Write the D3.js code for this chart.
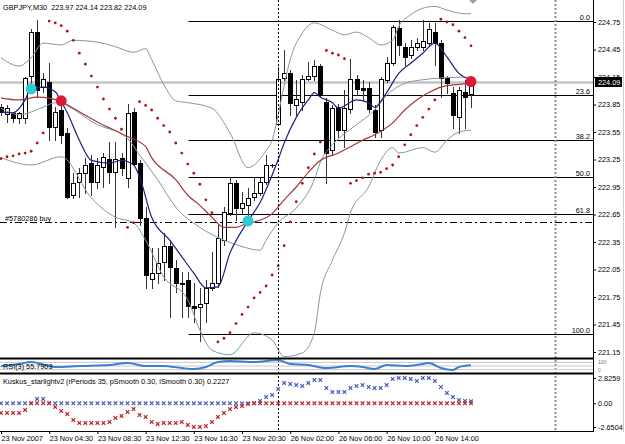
<!DOCTYPE html>
<html>
<head>
<meta charset="utf-8">
<script src="https://cdn.jsdelivr.net/npm/d3@7"></script>
<style>
    body { margin: 0; background: #fff; }
    svg { display: block; font-family: "Liberation Sans", Arial, sans-serif; }
</style>
</head>
<body>
<div id="chart"></div>
<script>
// GBPJPY M30 bars, index 0 = 23 Nov 00:30
var opens = [223.82,223.75,223.76,223.70,223.70,224.16,224.64,224.04,224.10,223.60, 223.79,223.54,222.86,223.00,223.10,223.21,223.00,223.17,223.26,223.11, 223.27,223.05,223.77,223.21,222.61,221.95,222.01,222.13,222.31,222.07, 221.90,221.94,221.65,221.64,221.68,221.85,221.90,222.37,222.67,222.99, 222.72,222.75,222.84,222.88,223.00,223.19,223.64,224.14,224.19,223.84, 223.88,224.13,224.16,224.27,223.88,223.35,223.82,223.57,223.80,224.13, 224.03,224.03,223.79,223.57,224.12,224.30,224.68,224.48,224.39,224.48, 224.48,224.52,224.64,224.52,224.14,223.98,223.71,223.99,223.97];
var highs = [223.86,223.84,223.77,223.77,224.15,224.67,224.77,224.19,224.30,223.82, 223.90,223.59,223.10,223.16,223.27,223.30,223.27,223.32,223.44,223.44, 223.32,223.86,223.81,223.24,222.73,222.28,222.28,222.45,222.37,222.15, 222.02,222.02,221.90,221.85,221.94,222.24,222.54,222.73,223.06,223.03, 222.90,222.94,223.05,223.05,223.30,223.20,224.26,224.44,224.23,224.12, 224.17,224.31,224.34,224.29,223.92,223.84,223.86,224.01,224.35,224.17, 224.12,224.09,223.84,224.15,224.37,224.72,224.77,224.52,224.55,224.58, 224.77,224.74,224.74,224.55,224.16,224.04,224.04,224.12,224.14];
var lows = [223.74,223.66,223.66,223.65,223.65,224.04,223.93,223.99,223.46,223.46, 223.43,222.83,222.83,222.84,222.88,222.86,222.94,222.95,222.99,222.51, 223.08,222.95,223.18,222.54,221.85,221.85,221.90,221.94,221.53,221.80, 221.53,221.53,221.48,221.27,221.48,221.83,221.86,222.32,222.64,222.59, 222.67,222.61,222.81,222.86,222.98,223.17,223.64,224.12,223.74,223.74, 223.79,224.12,224.12,223.93,222.99,223.30,223.50,223.39,223.76,223.95, 223.90,223.77,223.50,223.50,224.10,224.28,224.39,224.28,224.36,224.44, 224.44,224.50,224.28,223.93,223.98,223.59,223.54,223.59,223.82];
var closes = [223.77,223.81,223.70,223.76,224.14,224.64,224.01,224.13,223.60,223.77, 223.52,222.84,222.99,223.10,223.19,223.00,223.19,223.28,223.11,223.26, 223.16,223.76,223.20,222.61,221.99,222.01,222.12,222.31,222.08,221.90, 221.89,221.65,221.63,221.67,221.85,221.90,222.39,222.68,222.99,222.72, 222.78,222.83,222.88,223.00,223.19,223.19,224.13,224.19,223.87,223.91, 224.13,224.16,224.27,223.95,223.32,223.81,223.57,223.81,224.13,224.02, 224.01,223.80,223.55,224.13,224.30,224.70,224.50,224.37,224.48,224.52, 224.54,224.67,224.52,224.14,224.08,223.74,224.01,223.93,224.09];

var sar = [223.26,223.28,223.29,223.31,223.32,223.34,223.43,223.54,224.76,224.74, 224.71,224.65,224.55,224.41,224.29,224.16,224.04,223.91,223.80,223.70, 223.58,222.51,222.56,223.88,223.84,223.79,223.70,223.62,223.55,223.43, 223.32,223.20,223.10,222.98,222.81,222.67,221.26,221.30,221.36,221.46, 221.56,221.64,221.74,221.80,221.87,221.99,222.09,222.31,222.57,222.79, 222.99,223.16,223.31,223.44,224.44,224.41,224.39,224.35,222.99,223.02, 223.05,223.09,223.10,223.11,223.15,223.19,223.28,223.41,223.52,223.62, 223.71,223.80,223.90,224.78,224.75,224.72,224.65,224.58,224.49];

// [bar, price]
var bbUpper = [[0,224.36],[3,224.27],[5,224.36],[7,224.52],[10,224.50],[12,224.55],[16,224.53],[19,224.48],[22,224.42],[24,224.46],[25,224.34],[27,224.07],[29,223.89],[31,223.87],[35,223.81],[38,223.54],[41,223.16],[42,223.19],[44,223.35],[45,223.46],[46,223.74],[47,224.06],[48,224.34],[50,224.63],[52,224.74],[55,224.66],[57,224.61],[59,224.64],[61,224.58],[63,224.50],[65,224.55],[66,224.70],[68,224.83],[70,224.90],[72,224.92],[74,224.88],[77,224.84],[78,224.84]];
var bbMiddle = [[0,223.81],[3,223.74],[7,223.82],[9,223.87],[16,223.63],[21,223.48],[23,223.30],[26,223.03],[29,222.73],[33,222.51],[37,222.37],[40,222.30],[43,222.26],[44,222.37],[46,222.56],[49,222.72],[52,223.03],[53,223.22],[55,223.41],[57,223.53],[59,223.63],[62,223.79],[64,223.95],[67,224.08],[70,224.12],[73,224.14],[78,224.15]];
var bbLower = [[0,223.27],[5,223.19],[10,223.28],[15,222.83],[19,222.62],[22,222.56],[24,222.37],[27,221.97],[31,221.72],[33,221.39],[35,221.17],[38,221.12],[42,221.36],[45,221.28],[47,221.10],[50,221.14],[52,221.36],[53,221.79],[55,222.15],[57,222.45],[58,222.67],[61,222.95],[63,223.24],[65,223.38],[66,223.32],[70,223.38],[72,223.33],[74,223.46],[76,223.55],[78,223.57]];
var maFast = [[0,223.77],[2,223.76],[4,223.90],[5,224.03],[7,224.04],[9,223.99],[10,223.88],[11,223.76],[13,223.46],[15,223.24],[18,223.21],[20,223.24],[22,223.19],[23,223.06],[25,222.62],[28,222.37],[30,222.19],[32,222.01],[34,221.85],[36,221.86],[38,222.23],[41,222.58],[43,222.78],[45,223.08],[46,223.25],[47,223.43],[49,223.71],[51,223.90],[52,223.98],[53,223.93],[55,223.87],[56,223.81],[59,223.90],[61,223.87],[62,223.82],[64,223.98],[66,224.19],[68,224.30],[70,224.41],[72,224.52],[74,224.37],[76,224.19],[78,224.12]];
var maSlow = [[0,223.92],[3,223.90],[6,223.93],[8,223.92],[10,223.88],[13,223.77],[16,223.66],[21,223.50],[24,223.39],[25,223.27],[29,223.03],[31,222.86],[33,222.75],[35,222.62],[37,222.51],[39,222.51],[41,222.56],[42,222.57],[45,222.66],[47,222.81],[49,222.95],[51,223.11],[53,223.24],[56,223.32],[58,223.39],[60,223.46],[62,223.52],[65,223.65],[67,223.79],[69,223.90],[71,223.98],[73,224.04],[76,224.07],[78,224.08]];

var crossUp = [[5,224.02],[41,222.58]];
var crossDown = [[10,223.89],[78,224.10]];

var rsiValues = [[0,50],[3,67],[5,83],[9,42],[13,50],[18,58],[21,75],[24,50],[27,50],[30,33],[32,25],[34,42],[36,83],[38,92],[42,83],[46,99],[48,67],[51,58],[54,33],[58,50],[60,42],[62,25],[64,58],[67,50],[70,67],[71,75],[73,33],[75,17],[76,42],[78,55.79]];

var kuskus = [-1.08,-1.08,-1.08,-1.08,-0.75,0.02,0.48,0.48,0.02,-0.41, -0.86,-1.20,-1.87,-2.20,-2.20,-2.20,-2.20,-2.20,-2.09,-1.64, -1.42,-0.97,-0.64,-1.31,-1.53,-2.09,-2.31,-2.20,-2.20,-2.20, -2.09,-2.42,-2.65,-2.65,-2.54,-2.09,-1.53,-1.08,-0.64,-0.41, -0.30,-0.08,0.02,0.26,0.70,0.93,1.60,2.27,2.16,2.04, 1.93,2.27,2.60,2.60,1.71,1.26,1.26,1.26,1.71,1.93, 2.04,1.82,1.71,1.71,2.04,2.72,2.83,2.83,2.72,2.49, 2.83,2.83,2.49,1.82,1.15,0.70,0.37,0.26,0.2227];

var priceTicks = [224.75, 224.45, 224.15, 223.85, 223.55, 223.25, 222.95, 222.65, 222.35, 222.05, 221.75, 221.45, 221.15];
var kuskusTicks = [2.8259, 0, -2.6504];
var timeLabels = ["23 Nov 2007", "23 Nov 04:30", "23 Nov 08:30", "23 Nov 12:30", "23 Nov 16:30", "23 Nov 20:30", "26 Nov 02:00", "26 Nov 06:00", "26 Nov 10:00", "26 Nov 14:00"];
var timeLabelBars = [0, 8, 16, 24, 32, 40, 48, 56, 64, 72];

var fibLevels = [0, 23.6, 38.2, 50, 61.8, 100];
var fibLabels = ["0.0", "23.6", "38.2", "50.0", "61.8", "100.0"];
var fibHigh = 224.76, fibLow = 221.35, fibStartBar = 31;
var bidPrice = 224.09;
var orderPrice = 222.57;
var separatorBars = [46, 92];

var width = 625, height = 444;
var right = 593, mainBottom = 358;
var fs = 7.3;

var svg = d3.select("#chart")
    .append("svg")
    .attr("width", width)
    .attr("height", height);

var x = d3.scaleLinear().domain([0, 78]).range([1, 471]);
var y = d3.scaleLinear().domain([221.15, 224.75]).range([352, 22]);
var yRsi = d3.scaleLinear().domain([0, 100]).range([372, 360]);
var yKus = d3.scaleLinear().domain([-2.6504, 2.8259]).range([427, 378]);

var px = function (i) { return Math.round(x(i)) + 0.5; };
var py = function (p) { return Math.round(y(p)) + 0.5; };

svg.append("clipPath").attr("id", "mainClip")
    .append("rect").attr("x", 0).attr("y", 0).attr("width", right).attr("height", mainBottom);

var main = svg.append("g").attr("clip-path", "url(#mainClip)");

// bid line
main.append("line")
    .attr("x1", 0).attr("x2", right)
    .attr("y1", y(bidPrice)).attr("y2", y(bidPrice))
    .attr("stroke", "#c4c4c4").attr("stroke-width", 2.5);

// fibo levels
var fibPrice = function (l) { return fibHigh - (fibHigh - fibLow) * l / 100; };
main.selectAll(".fib")
    .data(fibLevels)
    .enter()
    .append("line")
    .attr("x1", px(fibStartBar)).attr("x2", right)
    .attr("y1", function (d) { return py(fibPrice(d)); })
    .attr("y2", function (d) { return py(fibPrice(d)); })
    .attr("stroke", "#000").attr("stroke-width", 1);

main.selectAll(".fibtxt")
    .data(fibLevels)
    .enter()
    .append("text")
    .attr("x", 590)
    .attr("y", function (d) { return py(fibPrice(d)) - 2; })
    .attr("text-anchor", "end")
    .attr("font-size", fs)
    .text(function (d, i) { return fibLabels[i]; });

// order line
main.append("line")
    .attr("x1", 0).attr("x2", right)
    .attr("y1", py(orderPrice)).attr("y2", py(orderPrice))
    .attr("stroke", "#000").attr("stroke-dasharray", "7,3,2,3");
main.append("text")
    .attr("x", 5).attr("y", py(orderPrice) - 2)
    .attr("font-size", fs)
    .text("#5780286 buy");

// candles
var candles = main.selectAll(".candle")
    .data(opens)
    .enter()
    .append("g");

candles.append("line")
    .attr("x1", function (d, i) { return px(i); })
    .attr("x2", function (d, i) { return px(i); })
    .attr("y1", function (d, i) { return Math.round(y(highs[i])); })
    .attr("y2", function (d, i) { return Math.round(y(lows[i])) + 1; })
    .attr("stroke", "#333").attr("stroke-width", 1);

candles.append("rect")
    .attr("x", function (d, i) { return px(i) - 2; })
    .attr("width", 4)
    .attr("y", function (d, i) { return py(Math.max(d, closes[i])); })
    .attr("height", function (d, i) { return Math.max(0.01, py(Math.min(d, closes[i])) - py(Math.max(d, closes[i]))); })
    .attr("fill", function (d, i) { return closes[i] >= d ? "#fff" : "#000"; })
    .attr("stroke", "#000").attr("stroke-width", 1);

// bollinger + moving averages
var line = d3.line()
    .x(function (d) { return x(d[0]); })
    .y(function (d) { return y(d[1]); })
    .curve(d3.curveMonotoneX);

[bbUpper, bbMiddle, bbLower].forEach(function (s) {
    main.append("path").attr("d", line(s))
        .attr("fill", "none").attr("stroke", "#7f98ab").attr("stroke-width", 1);
});
main.append("path").attr("d", line(maSlow))
    .attr("fill", "none").attr("stroke", "#a33a3a").attr("stroke-width", 1.2);
main.append("path").attr("d", line(maFast))
    .attr("fill", "none").attr("stroke", "#20207a").attr("stroke-width", 1.2);

// parabolic sar
main.selectAll(".sar")
    .data(sar)
    .enter()
    .append("circle")
    .attr("cx", function (d, i) { return x(i); })
    .attr("cy", function (d) { return y(d); })
    .attr("r", 1.4)
    .attr("fill", "#b0141a");

// cross markers
main.selectAll(".up")
    .data(crossUp)
    .enter()
    .append("circle")
    .attr("cx", function (d) { return x(d[0]); })
    .attr("cy", function (d) { return y(d[1]); })
    .attr("r", 5.5)
    .attr("fill", "#2ccbd6");
main.selectAll(".dn")
    .data(crossDown)
    .enter()
    .append("circle")
    .attr("cx", function (d) { return x(d[0]); })
    .attr("cy", function (d) { return y(d[1]); })
    .attr("r", 5.5)
    .attr("fill", "#dc1a3c");

main.append("path")
    .attr("d", "M469,0L477,0L473,4Z")
    .attr("fill", "#a0a0a0");

// vertical separators
svg.append("line")
    .attr("x1", px(separatorBars[0])).attr("x2", px(separatorBars[0]))
    .attr("y1", 0).attr("y2", 431)
    .attr("stroke", "#000").attr("stroke-dasharray", "2,2");
svg.append("line")
    .attr("x1", px(separatorBars[1])).attr("x2", px(separatorBars[1]))
    .attr("y1", 0).attr("y2", 431)
    .attr("stroke", "#8a8a8a").attr("stroke-width", 2).attr("stroke-dasharray", "2,2");

// price axis
var yAxis = svg.append("g")
    .attr("transform", "translate(" + right + ",0)")
    .call(d3.axisRight(y).tickValues(priceTicks).tickSize(3).tickPadding(2).tickFormat(d3.format(".2f")));
yAxis.select(".domain").remove();
yAxis.selectAll("text").attr("font-size", fs).attr("font-family", "Liberation Sans, Arial");

svg.append("rect")
    .attr("x", 595).attr("y", Math.round(y(bidPrice)) - 5)
    .attr("width", 27).attr("height", 10)
    .attr("fill", "#000");
svg.append("text")
    .attr("x", 598).attr("y", Math.round(y(bidPrice)) + 3)
    .attr("font-size", fs).attr("fill", "#fff")
    .text(bidPrice.toFixed(2));

svg.append("text")
    .attr("x", 3).attr("y", 10)
    .attr("font-size", fs)
    .attr("xml:space", "preserve")
    .text("GBPJPY,M30  223.97 224.14 223.82 224.09");

// RSI panel
svg.selectAll(".rsilevel")
    .data([80, 50, 20])
    .enter()
    .append("line")
    .attr("x1", 0).attr("x2", right)
    .attr("y1", function (d) { return yRsi(d); })
    .attr("y2", function (d) { return yRsi(d); })
    .attr("stroke", "#c8c8c8");

var rsiLine = d3.line()
    .x(function (d) { return x(d[0]); })
    .y(function (d) { return yRsi(d[1]); })
    .curve(d3.curveMonotoneX);
svg.append("path").attr("d", rsiLine(rsiValues))
    .attr("fill", "none").attr("stroke", "#3a7fd0").attr("stroke-width", 2);

svg.append("text")
    .attr("x", 3).attr("y", 369)
    .attr("font-size", fs)
    .text("RSI(3) 55.7903");
svg.append("text").attr("x", 598).attr("y", 364).attr("font-size", 5).attr("fill", "#777").text("100");
svg.append("text").attr("x", 598).attr("y", 372).attr("font-size", 5).attr("fill", "#777").text("0");

// Kuskus panel
var cross = "M-1.8,-1.8L1.8,1.8M-1.8,1.8L1.8,-1.8";
svg.selectAll(".kb")
    .data(kuskus)
    .enter()
    .append("path")
    .attr("d", cross)
    .attr("transform", function (d, i) { return "translate(" + x(i) + "," + yKus(Math.max(d, 0)) + ")"; })
    .attr("stroke", "#4b5fb8").attr("stroke-width", 1.2).attr("fill", "none");
svg.selectAll(".kr")
    .data(kuskus)
    .enter()
    .append("path")
    .attr("d", cross)
    .attr("transform", function (d, i) { return "translate(" + x(i) + "," + yKus(Math.min(d, 0)) + ")"; })
    .attr("stroke", "#c0262a").attr("stroke-width", 1.2).attr("fill", "none");

svg.append("text").attr("x", 3).attr("y", 384).attr("font-size", fs).text("Kuskus_starlightv2");
svg.append("text").attr("x", 66).attr("y", 384).attr("font-size", fs).text("(rPeriods 35, pSmooth 0.30, iSmooth 0.30)");
svg.append("text").attr("x", 207).attr("y", 384).attr("font-size", fs).text("0.2227");

var kAxis = svg.append("g")
    .attr("transform", "translate(" + right + ",0)")
    .call(d3.axisRight(yKus).tickValues(kuskusTicks).tickSize(3).tickPadding(2)
        .tickFormat(function (d) { return d === 0 ? "0.00" : d.toFixed(4); }));
kAxis.select(".domain").remove();
kAxis.selectAll("text").attr("font-size", fs).attr("font-family", "Liberation Sans, Arial");

// panel borders
svg.append("line").attr("x1", 0).attr("x2", right).attr("y1", 358.5).attr("y2", 358.5).attr("stroke", "#000").attr("stroke-width", 2);
svg.append("line").attr("x1", 0).attr("x2", right).attr("y1", 373.5).attr("y2", 373.5).attr("stroke", "#000").attr("stroke-width", 2);
svg.append("line").attr("x1", 0).attr("x2", right).attr("y1", 431.5).attr("y2", 431.5).attr("stroke", "#000");
svg.append("line").attr("x1", right + 0.5).attr("x2", right + 0.5).attr("y1", 0).attr("y2", 432).attr("stroke", "#000");
svg.append("line").attr("x1", 623.5).attr("x2", 623.5).attr("y1", 0).attr("y2", 432).attr("stroke", "#cfcfcf");

// time axis
var xAxis = svg.append("g")
    .attr("transform", "translate(0,431)")
    .call(d3.axisBottom(x).tickValues(timeLabelBars).tickSize(3).tickPadding(2)
        .tickFormat(function (d, i) { return timeLabels[i]; }));
xAxis.select(".domain").remove();
xAxis.selectAll("text")
    .attr("font-size", fs)
    .attr("font-family", "Liberation Sans, Arial")
    .attr("text-anchor", "start")
    .attr("x", 0);

</script>
</body>
</html>
